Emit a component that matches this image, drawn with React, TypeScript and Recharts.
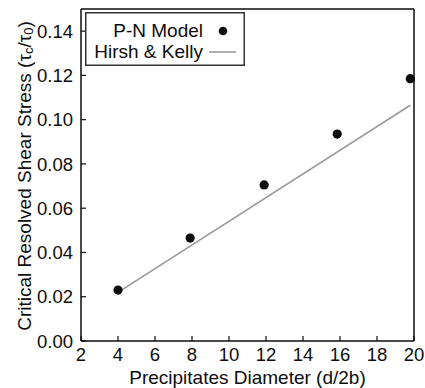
import { ComposedChart, Line, Scatter, XAxis, YAxis, Legend } from 'recharts'

const xTicks = [2, 4, 6, 8, 10, 12, 14, 16, 18, 20]
const yTicks = [0, 0.02, 0.04, 0.06, 0.08, 0.1, 0.12, 0.14]

// P-N model points
const modelX = [4, 7.9, 11.9, 15.85, 19.8]
const modelY = [0.023, 0.0465, 0.0705, 0.0935, 0.1185]

// Hirsh & Kelly line end points
const hirshX = [4, 19.8]
const hirshY = [0.022, 0.1065]

const modelData = modelX.map((x, i) => ({ x, y: modelY[i] }))
const hirshData = hirshX.map((x, i) => ({ x, y: hirshY[i] }))

const font = '"Liberation Sans", Arial, Helvetica, sans-serif'
const ink = '#0d0d0d'

const tickStyle = { fontSize: 18.5, fill: ink, fontFamily: font }

const Dot = (props: any) => {
  const { cx, cy } = props
  return <circle cx={cx} cy={cy} r={4.6} fill={ink} />
}

const YTitle = () => (
  <text
    transform="translate(24,176) rotate(-90)"
    textAnchor="middle"
    dominantBaseline="central"
    fontSize={19}
    fontFamily={font}
    fill={ink}
  >
    Critical Resolved Shear Stress (τ
    <tspan fontSize={13} dy={4}>c</tspan>
    <tspan dy={-4}>/τ</tspan>
    <tspan fontSize={13} dy={4}>0</tspan>
    <tspan dy={-4}>)</tspan>
  </text>
)

const LegendBox = () => (
  <svg width={160} height={54} style={{ display: 'block' }}>
    <rect x={0.75} y={0.75} width={158.5} height={52.5} fill="#fff" stroke="#333" strokeWidth={1.5} />
    <text x={118} y={18} textAnchor="end" dominantBaseline="central" fontSize={19} fontFamily={font} fill={ink}>
      P-N Model
    </text>
    <circle cx={138} cy={19} r={4.3} fill={ink} />
    <text x={118} y={39} textAnchor="end" dominantBaseline="central" fontSize={19} fontFamily={font} fill={ink}>
      Hirsh &amp; Kelly
    </text>
    <line x1={124} x2={151} y1={40} y2={40} stroke="#9a9a9a" strokeWidth={1.6} />
  </svg>
)

export default function App() {
  return (
    <div style={{ position: 'absolute', left: 0, top: 0, background: '#fff', fontFamily: font }}>
      <ComposedChart
        width={425}
        height={388}
        margin={{ top: 8, right: 10, bottom: 0, left: 0 }}
      >
        <XAxis
          type="number"
          dataKey="x"
          domain={[2, 20]}
          ticks={xTicks}
          interval={0}
          height={47}
          tickSize={-5}
          tickMargin={12}
          tick={tickStyle}
          axisLine={{ stroke: ink, strokeWidth: 1.5 }}
          tickLine={{ stroke: ink, strokeWidth: 1.2 }}
          label={{
            value: 'Precipitates Diameter (d/2b)',
            position: 'insideBottom',
            offset: 4,
            fontSize: 19,
            fill: ink,
            fontFamily: font,
          }}
        />
        <XAxis
          xAxisId="top"
          orientation="top"
          type="number"
          dataKey="x"
          domain={[2, 20]}
          ticks={xTicks}
          interval={0}
          height={1}
          tickSize={-5}
          tickFormatter={() => ''}
          axisLine={{ stroke: ink, strokeWidth: 1.5 }}
          tickLine={{ stroke: ink, strokeWidth: 1.2 }}
        />
        <YAxis
          type="number"
          domain={[0, 0.15]}
          ticks={yTicks}
          interval={0}
          width={81}
          tickSize={-5}
          tickMargin={13}
          tick={tickStyle}
          tickFormatter={(v: number) => v.toFixed(2)}
          axisLine={{ stroke: ink, strokeWidth: 1.5 }}
          tickLine={{ stroke: ink, strokeWidth: 1.2 }}
          label={<YTitle />}
        />
        <YAxis
          yAxisId="right"
          orientation="right"
          type="number"
          domain={[0, 0.15]}
          ticks={yTicks}
          interval={0}
          width={1}
          tickSize={-5}
          tickFormatter={() => ''}
          axisLine={{ stroke: ink, strokeWidth: 1.5 }}
          tickLine={{ stroke: ink, strokeWidth: 1.2 }}
        />
        <Legend
          layout="vertical"
          align="center"
          verticalAlign="middle"
          content={() => <LegendBox />}
          wrapperStyle={{ position: 'absolute', left: 85, top: 12, width: 160, height: 54 }}
        />
        <Line
          data={hirshData}
          dataKey="y"
          type="linear"
          stroke="#9a9a9a"
          strokeWidth={1.6}
          dot={false}
          activeDot={false}
          isAnimationActive={false}
          legendType="none"
        />
        <Scatter
          data={modelData}
          dataKey="y"
          shape={<Dot />}
          isAnimationActive={false}
        />
      </ComposedChart>
    </div>
  )
}
